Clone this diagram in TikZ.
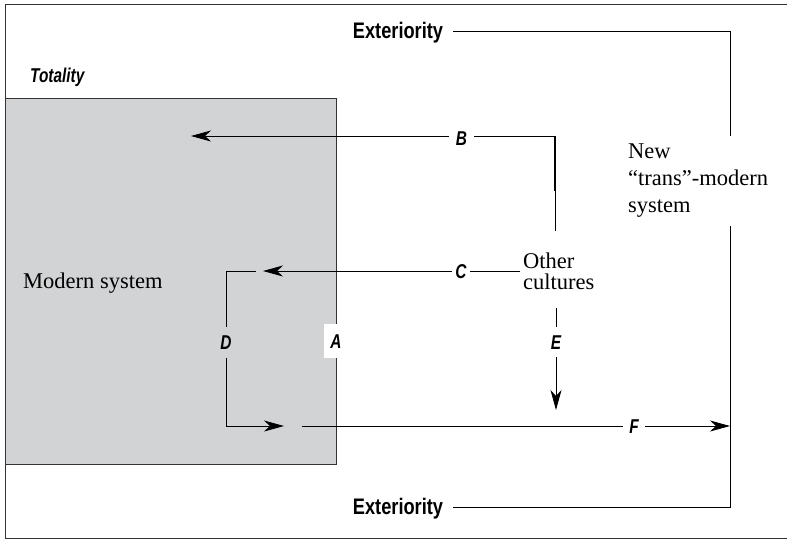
\documentclass[tikz,border=0pt]{standalone}
\usepackage{fontspec}
\setmainfont{Liberation Serif}
\newfontfamily\cond[FakeStretch=0.81]{Liberation Sans}
\newfontfamily\condi[FakeStretch=0.77]{Liberation Sans}
\usetikzlibrary{arrows.meta}
\definecolor{modgray}{RGB}{209,211,212}
\begin{document}
\begin{tikzpicture}[x=1pt,y=-1pt,
  frame/.style={draw=black!80, line width=0.9pt},
  conn/.style={draw=black, line width=0.8pt},
  arr/.style={conn, -{Stealth[length=20pt,width=11pt,inset=6pt]}},
  serif/.style={font=\fontsize{22.5}{27}\selectfont, inner xsep=0pt, align=left},
  extlbl/.style={font=\cond\bfseries\fontsize{22.5}{24}\selectfont, inner xsep=10pt, inner ysep=0pt, text height=16pt, text depth=0pt},
  letter/.style={font=\condi\bfseries\itshape\fontsize{20}{22}\selectfont, inner ysep=0pt, text height=14pt, text depth=0pt}
]
\useasboundingbox (0,0) rectangle (787,539);
% outer frame
\draw[frame] (795,4) -- (5,4) -- (5,538) -- (795,538);
% modern system box
\node[frame, fill=modgray, minimum width=331pt, minimum height=366pt, inner sep=0pt] (modern) at (170.5,281) {};
\node[anchor=base west, inner sep=0pt, font=\fontsize{22.5}{27}\selectfont] (mstext) at (23,288) {Modern system};
\node[anchor=west, inner sep=0pt, font=\condi\bfseries\itshape\fontsize{20}{22}\selectfont, text height=14pt, text depth=0pt] (tot) at (30,75) {Totality};
% labels
\node[extlbl] (ext1) at (398,30.5) {Exteriority};
\node[extlbl] (ext2) at (398,506.5) {Exteriority};
\node[serif, anchor=north west, inner ysep=8pt] (new) at (628,136) {New\\``trans''-modern\\system};
\node[serif, anchor=west, inner xsep=3pt, inner ysep=0pt, font=\fontsize{22.5}{21}\selectfont] (othr) at (520,271) {Other\\cultures};
\node[letter, inner xsep=7pt] (lblB) at (461.5,138) {B};
\node[letter, inner xsep=3.5pt] (lblC) at (461,271) {C};
\node[letter, inner xsep=0pt, inner ysep=8.5pt] (lblD) at (226,342.5) {D};
\node[letter, inner xsep=0pt, inner ysep=8pt] (lblE) at (556,342) {E};
\node[letter, inner xsep=6pt] (lblF) at (634,426) {F};
\node[letter, fill=white, minimum width=24pt, minimum height=34pt, inner sep=0pt] (lblA) at (336,341) {A};
% coordinates
\coordinate (tr) at (730,31);
\coordinate (br) at (730,507);
\coordinate (btip) at (191,136);
\coordinate (bcorner) at (555,136);
\coordinate (bthick) at (555,191);
\coordinate (bend) at (555,231);
\coordinate (ctip) at (263,271);
\coordinate (dtop) at (256,271);
\coordinate (dtl) at (226,271);
\coordinate (dbl) at (226,426);
\coordinate (dtip) at (284,426);
\coordinate (fstart) at (302,426);
\coordinate (etop) at (556,308);
\coordinate (etip) at (556,410);
% connectors
\draw[conn] (ext1.east |- tr) -- (tr) -- (tr |- new.north);
\draw[conn] (tr |- new.south) -- (br) -- (ext2.east |- br);
\draw[conn] (bend) -- (bcorner) -- (bcorner -| lblB.east);
\draw[line width=1.6pt] (bcorner) -- (bthick);
\draw[arr] (lblB.west |- btip) -- (btip);
\draw[conn] (othr.west) -- (lblC.east);
\draw[arr] (lblC.west) -- (ctip);
\draw[conn] (dtop) -- (dtl) -- (lblD.north);
\draw[arr] (lblD.south) -- (dbl) -- (dtip);
\draw[conn] (fstart) -- (lblF.west);
\draw[arr] (lblF.east) -- (br |- fstart);
\draw[conn] (etop) -- (lblE.north);
\draw[arr] (lblE.south) -- (etip);
\end{tikzpicture}
\end{document}
